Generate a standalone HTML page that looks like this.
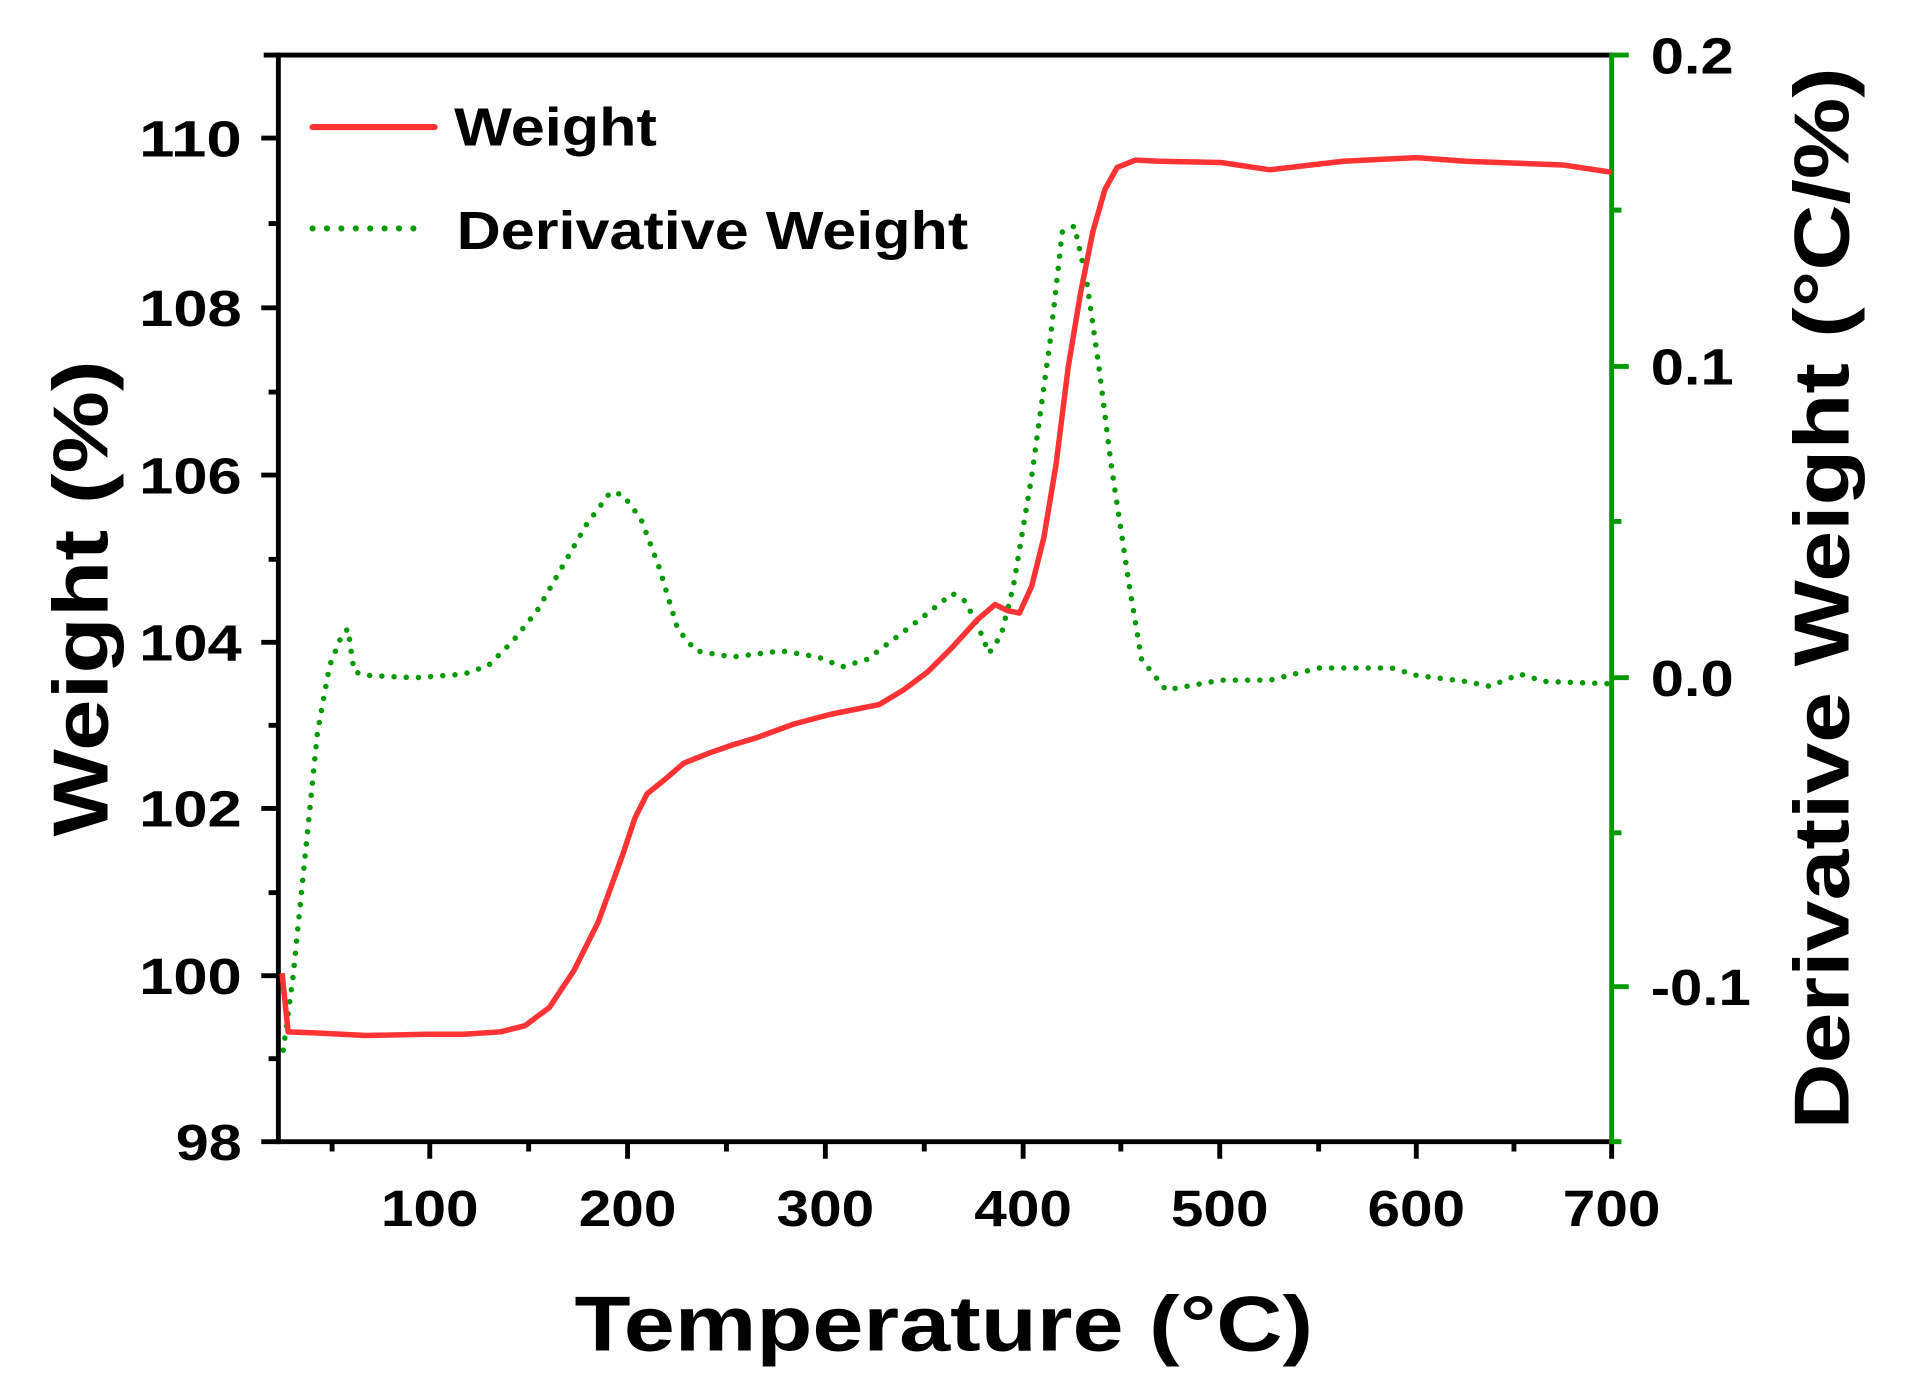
<!DOCTYPE html>
<html><head><meta charset="utf-8"><style>html,body{margin:0;padding:0;background:#fff}svg{display:block}text{font-family:"Liberation Sans",Arial,sans-serif;font-weight:bold}</style></head>
<body>
<svg width="1912" height="1397" viewBox="0 0 1566 1144" xmlns="http://www.w3.org/2000/svg">
<rect width="1566" height="1144" fill="#fff"/>
<g stroke="#000" stroke-width="4" fill="none">
<line x1="216" y1="45" x2="1320" y2="45"/>
<line x1="228" y1="43" x2="228" y2="937"/>
<line x1="228" y1="935" x2="1320" y2="935"/>
<path d="M352 935v14M514 935v14M676 935v14M838 935v14M999 935v14M1160 935v14M1320 935v14M272 935v8M433 935v8M595 935v8M757 935v8M918 935v8M1080 935v8M1240 935v8"/>
<path d="M228 935h-14M228 799h-14M228 662h-14M228 526h-14M228 389h-14M228 252h-14M228 113h-14M228 867h-8M228 731h-8M228 594h-8M228 458h-8M228 321h-8M228 183h-8"/>
</g>
<g stroke="#009900" stroke-width="4" fill="none">
<line x1="1320" y1="43" x2="1320" y2="937"/>
<path d="M1320 45h14M1320 300h14M1320 555h14M1320 808h14M1320 172h8M1320 427h8M1320 682h8M1320 935h8"/>
</g>
<g font-size="42" text-anchor="end">
<text x="198" y="950" textLength="54" lengthAdjust="spacingAndGlyphs">98</text>
<text x="198" y="814" textLength="84" lengthAdjust="spacingAndGlyphs">100</text>
<text x="198" y="677" textLength="84" lengthAdjust="spacingAndGlyphs">102</text>
<text x="198" y="541" textLength="84" lengthAdjust="spacingAndGlyphs">104</text>
<text x="198" y="404" textLength="84" lengthAdjust="spacingAndGlyphs">106</text>
<text x="198" y="267" textLength="84" lengthAdjust="spacingAndGlyphs">108</text>
<text x="198" y="128" textLength="84" lengthAdjust="spacingAndGlyphs">110</text>
</g>
<g font-size="42" text-anchor="middle">
<text x="352" y="1004" textLength="80" lengthAdjust="spacingAndGlyphs">100</text>
<text x="514" y="1004" textLength="80" lengthAdjust="spacingAndGlyphs">200</text>
<text x="676" y="1004" textLength="80" lengthAdjust="spacingAndGlyphs">300</text>
<text x="838" y="1004" textLength="80" lengthAdjust="spacingAndGlyphs">400</text>
<text x="999" y="1004" textLength="80" lengthAdjust="spacingAndGlyphs">500</text>
<text x="1160" y="1004" textLength="80" lengthAdjust="spacingAndGlyphs">600</text>
<text x="1320" y="1004" textLength="80" lengthAdjust="spacingAndGlyphs">700</text>
</g>
<g font-size="42" text-anchor="start">
<text x="1352" y="60" textLength="68" lengthAdjust="spacingAndGlyphs">0.2</text>
<text x="1352" y="315" textLength="68" lengthAdjust="spacingAndGlyphs">0.1</text>
<text x="1352" y="570" textLength="68" lengthAdjust="spacingAndGlyphs">0.0</text>
<text x="1352" y="823" textLength="82" lengthAdjust="spacingAndGlyphs">-0.1</text>
</g>
<text x="773" y="1106" font-size="64" text-anchor="middle" textLength="605" lengthAdjust="spacingAndGlyphs">Temperature (°C)</text>
<text transform="translate(88,490) rotate(-90)" font-size="64" text-anchor="middle" textLength="390" lengthAdjust="spacingAndGlyphs">Weight (%)</text>
<text transform="translate(1514,490) rotate(-90)" font-size="64" text-anchor="middle" textLength="870" lengthAdjust="spacingAndGlyphs">Derivative Weight (°C/%)</text>
<line x1="256" y1="104" x2="356" y2="104" stroke="#ff3333" stroke-width="5" stroke-linecap="round"/>
<text x="372" y="119" font-size="44" textLength="166" lengthAdjust="spacingAndGlyphs">Weight</text>
<line x1="256" y1="187" x2="350" y2="187" stroke="#009900" stroke-width="5" stroke-linecap="round" stroke-dasharray="0 11.8"/>
<text x="374" y="204" font-size="44" textLength="419" lengthAdjust="spacingAndGlyphs">Derivative Weight</text>
<polyline fill="none" stroke="#009900" stroke-width="4.5" stroke-linecap="round" stroke-dasharray="0 10" points="232,860 240,800 250,700 260,600 270,545 280,520 285,515 290,550 300,553 340,555 380,552 400,545 420,525 440,500 460,465 480,430 500,403 510,405 525,425 540,465 555,515 570,533 600,538 640,533 670,538 690,546 710,540 730,525 760,502 780,486 790,492 800,510 810,535 820,520 830,480 845,390 860,280 870,190 880,185 890,230 900,300 910,380 925,480 935,540 955,565 1000,557 1040,557 1060,552 1080,547 1140,547 1160,553 1200,558 1220,562 1245,552 1265,558 1320,560"/>
<polyline fill="none" stroke="#ff3333" stroke-width="4.5" stroke-linejoin="round" points="231,797 236,845 260,846 300,848 350,847 380,847 410,845 430,840 450,825 470,795 490,755 510,700 520,670 530,650 545,638 560,625 580,617 600,610 620,604 650,593 680,585 720,577 740,565 760,550 780,530 800,508 815,495 825,500 835,502 845,480 855,440 865,380 875,300 885,240 895,190 905,155 915,137 930,131 950,132 1000,133 1040,139 1100,132 1160,129 1200,132 1280,135 1320,141"/>
</svg>
</body></html>
